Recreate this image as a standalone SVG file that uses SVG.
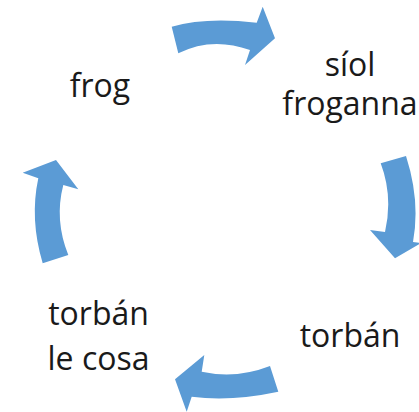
<svg xmlns="http://www.w3.org/2000/svg" width="419" height="412" viewBox="0 0 419 412">
<style>
.arr{fill:#5B9BD5;}
.t{font-family:"Open Sans","Liberation Sans",sans-serif;font-size:32px;fill:#1a1a1a;text-anchor:middle;}
</style>
<rect width="419" height="412" fill="#ffffff"/>
<g id="connectors">
<path class="arr" d="M171.7,26.7 Q205.8,16.7 256.7,22.7 L262.7,6.7 L275,38.3 L245,65 L250,50 Q211.9,36.4 178.3,53.3 Z"/>
<path class="arr" d="M380.7,163.3 Q393.2,196.4 385,232 L370,230 L395,258.3 L421,243 L413,242 Q420.5,201 406,156 Z"/>
<path class="arr" d="M270,366 Q236.2,379.2 201.7,371.7 L204.3,355 L175,379.3 L186.7,411.7 L191.7,396.7 Q231,401.8 278.3,391.7 Z"/>
<path class="arr" d="M42.7,263.3 Q29.5,219.2 38.3,178.3 L22.7,172.7 L56,160 L78.3,189.3 L63.3,185 Q54.2,220 68.3,255 Z"/>
</g>
<g id="node-frog"><text class="t" x="100" y="97">frog</text></g>
<g id="node-siol"><text class="t" x="350" y="76">síol</text><text class="t" x="350" y="115">froganna</text></g>
<g id="node-torban"><text class="t" x="350" y="347">torbán</text></g>
<g id="node-torban-le-cosa"><text class="t" x="98.5" y="325">torbán</text><text class="t" x="98.5" y="370">le cosa</text></g>
</svg>
